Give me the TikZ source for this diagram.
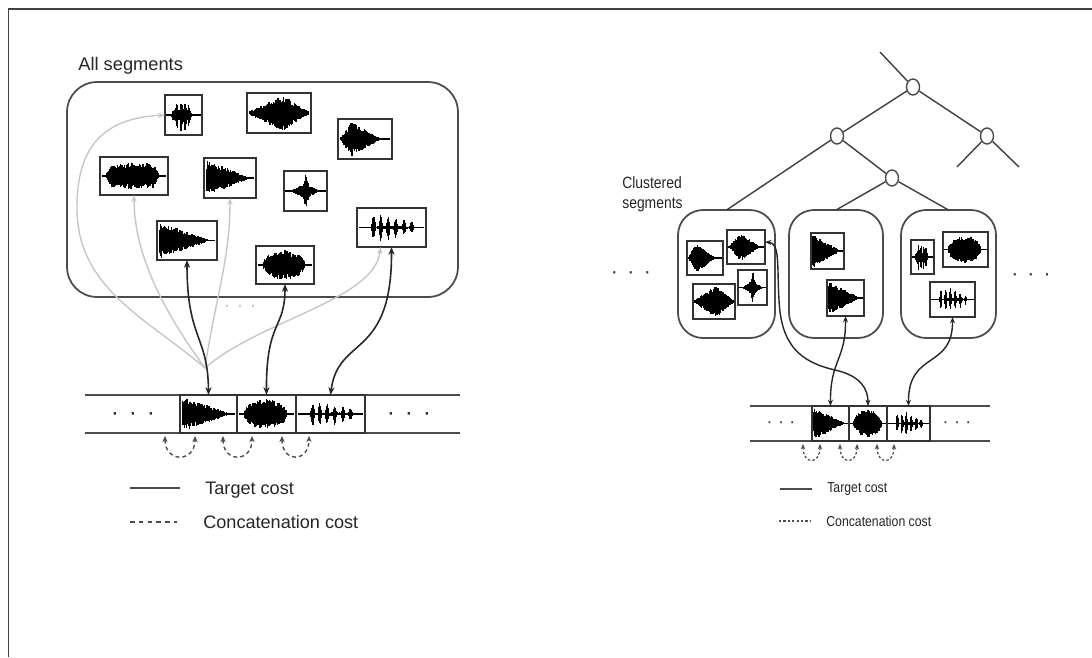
\documentclass[tikz,border=0pt]{standalone}
\usepackage{fontspec}
\setmainfont{Liberation Sans}
\usetikzlibrary{arrows.meta,shapes.geometric}

% horizontally condensed text
\newcommand\cond[1]{\scalebox{0.85}[1]{#1}}
% three spaced dots
\newcommand\tdots[1]{\makebox[#1]{·}\makebox[#1]{·}\makebox[#1]{·}}

% envelopes of the waveforms, in terms of \wu in [-1,1]
\def\eSpiky{0.3*max(0,min(1,(0.6-abs(\wu+0.1))/0.1))+0.6*tri(\wu,-0.38,0.08)+0.65*tri(\wu,-0.14,0.08)+0.6*tri(\wu,0.1,0.08)+0.4*tri(\wu,0.32,0.07)}
\def\eDiamond{0.1+0.9*atri(\wu,-0.97,0.1,0.97)}
\def\eLefty{0.95*atri(\wu,-1.0,-0.55,0.65)}
\def\eLeftyB{0.9*atri(\wu,-0.97,-0.3,0.8)}
\def\eDense{0.75*min(1,max(0,(0.85-abs(\wu+0.05))/0.2))}
\def\eDecay{1.0*atri(\wu,-1.02,-0.94,0.85)}
\def\eCross{0.55*tri(\wu,0.02,0.13)+0.45*tri(\wu,0,0.75)}
\def\eBlob{0.85*sqrt(max(0,1-((\wu+0.03)/0.78)^2))}
\def\ePeaks{0.12*tri(\wu,0.05,0.98)+0.7*tri(\wu,-0.55,0.07)+0.85*tri(\wu,-0.32,0.07)+0.75*tri(\wu,-0.1,0.07)+0.6*tri(\wu,0.13,0.07)+0.5*tri(\wu,0.38,0.07)+0.35*tri(\wu,0.62,0.06)}

% waveform strokes: #1 cx, #2 cy, #3 half width, #4 half height, #5 envelope
\newcommand\wavefill[5]{%
  \foreach \i in {0,...,64}{%
    \pgfmathsetmacro\wu{-0.96+\i*0.03}%
    \pgfmathsetmacro\wvenv{#5}%
    \pgfmathsetmacro\wvup{\wvenv*(0.6+0.4*rnd)}%
    \pgfmathsetmacro\wvdn{\wvenv*(0.6+0.4*rnd)}%
    \draw[wave] ({#1+\wu*(#3)},{#2-\wvup*(#4)}) -- ({#1+\wu*(#3)},{#2+\wvdn*(#4)});
  }%
  \draw[wave,line width=0.7pt] ({#1-1.0*(#3)},#2) -- ({#1+1.0*(#3)},#2);
}

% framed waveform: #1 name, #2 x1, #3 y1, #4 x2, #5 y2, #6 envelope
\newcommand\wavebox[6]{%
  \pgfmathsetmacro\wcx{(#2+#4)/2}%
  \pgfmathsetmacro\wcy{(#3+#5)/2}%
  \pgfmathsetmacro\whw{(#4-#2)/2}%
  \pgfmathsetmacro\whh{(#5-#3)/2}%
  \node[wbox, minimum width=\whw*0.04cm, minimum height=\whh*0.04cm] (#1) at (\wcx,\wcy) {};
  \wavefill{\wcx}{\wcy}{\whw*0.94}{\whh*0.92}{#6}%
}

\begin{document}
\begin{tikzpicture}[x=0.02cm,y=-0.02cm,
  declare function={tri(\x,\c,\w)=max(0,1-abs(\x-\c)/\w);
                    atri(\x,\a,\p,\b)=min(max(0,(\x-\a)/(\p-\a)),max(0,(\b-\x)/(\b-\p)));},
  wave/.style={line width=0.75pt, black},
  wbox/.style={draw=black!80, line width=0.95pt, inner sep=0pt, outer sep=0pt, fill=white},
  seg/.style={draw=black!70, line width=1pt, inner sep=0pt, outer sep=0pt},
  conn/.style={black!85, line width=0.9pt,
    {Stealth[length=4.5pt,width=3.5pt]}-{Stealth[length=4.5pt,width=3.5pt]}},
  connR/.style={black!85, line width=0.8pt,
    {Stealth[length=3.6pt,width=2.8pt]}-{Stealth[length=3.6pt,width=2.8pt]}},
  ghost/.style={black!22, line width=0.8pt, -{Stealth[length=4pt,width=3pt]}},
  catL/.style={black!70, line width=0.8pt, dash pattern=on 2.2pt off 1.8pt,
    {Stealth[length=3.5pt,width=3pt]}-{Stealth[length=3.5pt,width=3pt]}},
  catR/.style={black!70, line width=0.7pt, dash pattern=on 1.4pt off 1.2pt,
    {Stealth[length=3pt,width=2.5pt]}-{Stealth[length=3pt,width=2.5pt]}},
  stripline/.style={black!70, line width=1pt},
  tree/.style={black!75, line width=0.8pt},
  tnode/.style={ellipse, draw=black!70, fill=white, line width=0.8pt,
    minimum width=0.26cm, minimum height=0.32cm, inner sep=0pt},
  lbl/.style={inner sep=0pt, text=black!85},
  dotsl/.style={inner sep=0pt, font=\fontsize{14}{14}\selectfont, text=black!80}
]
\pgfmathsetseed{7}
\useasboundingbox (0,0) rectangle (1092,657);
\fill[white] (0,0) rectangle (1092,657);
\draw[black!75, line width=1.1pt] (8.5,657) -- (8.5,9) -- (1092,9);

% ---------------- left: unit selection over all segments ----------------
\node[lbl, anchor=west, font=\fontsize{10.4}{12}\selectfont] (tall) at (78,66) {All segments};
\node[seg, rounded corners=0.6cm, minimum width=7.82cm, minimum height=4.3cm] (allseg) at (262.5,189.5) {};

\wavebox{w1}{165}{95}{202}{135}{\eSpiky}
\wavebox{w2}{247}{93}{311}{133}{\eDiamond}
\wavebox{w3}{338}{119}{392}{159}{\eLefty}
\wavebox{w4}{100}{157}{168}{195}{\eDense}
\wavebox{w5}{204}{158}{256}{198}{\eDecay}
\wavebox{w6}{284}{171}{327}{211}{\eCross}
\wavebox{w7}{157}{221}{217}{260}{\eDecay}
\wavebox{w8}{256}{246}{314}{284}{\eBlob}
\wavebox{w9}{357}{208}{426}{247}{\ePeaks}

% selected sequence
\draw[stripline] (85,395) -- (460,395);
\draw[stripline] (85,433) -- (460,433);
\wavebox{L1}{180}{395}{237}{433}{\eDecay}
\wavebox{L2}{237}{395}{296}{433}{\eBlob}
\wavebox{L3}{296}{395}{365}{433}{\ePeaks}
\node[dotsl] (ld1) at (133,416) {\tdots{10.2pt}};
\node[dotsl] (ld2) at (409,416) {\tdots{10.2pt}};

% candidate links
\coordinate (conv) at (205,368);
\draw[ghost] (conv) .. controls (150,320) and (78,290) .. (77,210)
                    .. controls (76,140) and (110,118) .. (w1.west);
\draw[ghost] (conv) .. controls (170,320) and (134,260) .. (w4.south);
\draw[ghost] (conv) .. controls (215,300) and (230,260) .. (w5.south);
\draw[ghost] (conv) .. controls (260,320) and (375,300) .. ([xshift=-0.22cm]w9.south);
\node[dotsl, font=\fontsize{11}{11}\selectfont, text=black!25] (gd) at (240,308) {\tdots{7.4pt}};

\draw[conn] (w7.south) .. controls (187,340) and (208,335) .. (L1.north);
\draw[conn] (w8.south) .. controls (285,330) and (266,320) .. (L2.north);
\draw[conn] (w9.south) .. controls (392,360) and (338,335) .. (L3.north);

% concatenation links
\coordinate (la1) at (165,436); \coordinate (lb1) at (195,436);
\coordinate (la2) at (223,436); \coordinate (lb2) at (252,436);
\coordinate (la3) at (282,436); \coordinate (lb3) at (309,436);
\foreach \k in {1,2,3}{
  \draw[catL] (la\k) .. controls ([yshift=-0.54cm]la\k) and ([yshift=-0.54cm]lb\k) .. (lb\k);
}

% legend
\coordinate (lg1a) at (130,488); \coordinate (lg1b) at (180,488);
\coordinate (lg2a) at (130,522); \coordinate (lg2b) at (177,522);
\draw[black!70, line width=1pt] (lg1a) -- (lg1b);
\draw[black!70, line width=1pt, dash pattern=on 2.6pt off 2.4pt] (lg2a) -- (lg2b);
\node[lbl, anchor=west, font=\fontsize{10.3}{12}\selectfont] (t1) at (205,490) {Target cost};
\node[lbl, anchor=west, font=\fontsize{10.3}{12}\selectfont] (t2) at (203,522) {Concatenation cost};

% ---------------- right: selection over clustered segments ----------------
\coordinate (rt) at (880,52);
\node[tnode] (n1) at (913,87) {};
\node[tnode] (n2) at (837,136) {};
\node[tnode] (n3) at (987,136) {};
\node[tnode] (n4) at (892,178) {};
\coordinate (lf1) at (957,167);
\coordinate (lf2) at (1019,167);

\node[seg, rounded corners=0.5cm, minimum width=1.94cm, minimum height=2.56cm] (C1) at (726.5,274) {};
\node[seg, rounded corners=0.5cm, minimum width=1.88cm, minimum height=2.56cm] (C2) at (836,274) {};
\node[seg, rounded corners=0.5cm, minimum width=1.90cm, minimum height=2.56cm] (C3) at (948.5,274) {};

\draw[tree] (rt) -- (n1);
\draw[tree] (n1) -- (n2);
\draw[tree] (n1) -- (n3);
\draw[tree] (n3) -- (lf1);
\draw[tree] (n3) -- (lf2);
\draw[tree] (n2) -- (C1.north);
\draw[tree] (n2) -- (n4);
\draw[tree] (n4) -- (C2.north);
\draw[tree] (n4) -- (C3.north);

\node[lbl, anchor=north west, align=left, font=\fontsize{9.3}{11.3}\selectfont] (tclu) at (622,176)
  {\cond{Clustered}\\\cond{segments}};

\wavebox{b1}{687}{241}{723}{275}{\eLefty}
\wavebox{b2}{727}{230}{765}{264}{\eLeftyB}
\wavebox{b3}{738}{270}{767}{305}{\eCross}
\wavebox{b4}{693}{284}{735}{319}{\eDiamond}
\wavebox{b5}{811}{233}{844}{269}{\eDecay}
\wavebox{b6}{827}{280}{864}{316}{\eDecay}
\wavebox{b7}{911}{240}{934}{274}{\eSpiky}
\wavebox{b8}{943}{232}{988}{267}{\eBlob}
\wavebox{b9}{930}{282}{975}{317}{\ePeaks}

\node[dotsl, font=\fontsize{12}{12}\selectfont] (rd1) at (631,275) {\tdots{9.4pt}};
\node[dotsl, font=\fontsize{12}{12}\selectfont] (rd2) at (1031,277) {\tdots{9.2pt}};

% selected sequence
\draw[stripline, line width=0.9pt] (750,406) -- (990,406);
\draw[stripline, line width=0.9pt] (750,441) -- (990,441);
\wavebox{R1}{812}{406}{849}{441}{\eDecay}
\wavebox{R2}{849}{406}{887}{441}{\eBlob}
\wavebox{R3}{887}{406}{930}{441}{\ePeaks}
\node[dotsl, font=\fontsize{10}{10}\selectfont] (rd3) at (781,425) {\tdots{6.5pt}};
\node[dotsl, font=\fontsize{10}{10}\selectfont] (rd4) at (957,425) {\tdots{6.5pt}};

\draw[connR] ([yshift=0.1cm]b2.east) .. controls (780,243) and (777,265) .. (779,300)
             .. controls (781,345) and (800,362) .. (835,370)
             .. controls (862,376) and (868,390) .. (R2.north);
\draw[connR] (b6.south) .. controls (846,360) and (830,360) .. (R1.north);
\draw[connR] (b9.south) .. controls (953,370) and (908,350) .. (R3.north);

\coordinate (ra1) at (803,444); \coordinate (rb1) at (820,444);
\coordinate (ra2) at (840,444); \coordinate (rb2) at (857,444);
\coordinate (ra3) at (877,444); \coordinate (rb3) at (894,444);
\foreach \k in {1,2,3}{
  \draw[catR] (ra\k) .. controls ([yshift=-0.42cm]ra\k) and ([yshift=-0.42cm]rb\k) .. (rb\k);
}

% legend
\coordinate (rg1a) at (780,489); \coordinate (rg1b) at (812,489);
\coordinate (rg2a) at (779,521); \coordinate (rg2b) at (811,521);
\draw[black!70, line width=0.9pt] (rg1a) -- (rg1b);
\draw[black!70, line width=0.8pt, dash pattern=on 1.3pt off 1.2pt] (rg2a) -- (rg2b);
\node[lbl, anchor=west, font=\fontsize{8.2}{10}\selectfont] (t3) at (827,489) {\cond{Target cost}};
\node[lbl, anchor=west, font=\fontsize{8.2}{10}\selectfont] (t4) at (826,521) {\cond{Concatenation cost}};
\end{tikzpicture}
\end{document}
